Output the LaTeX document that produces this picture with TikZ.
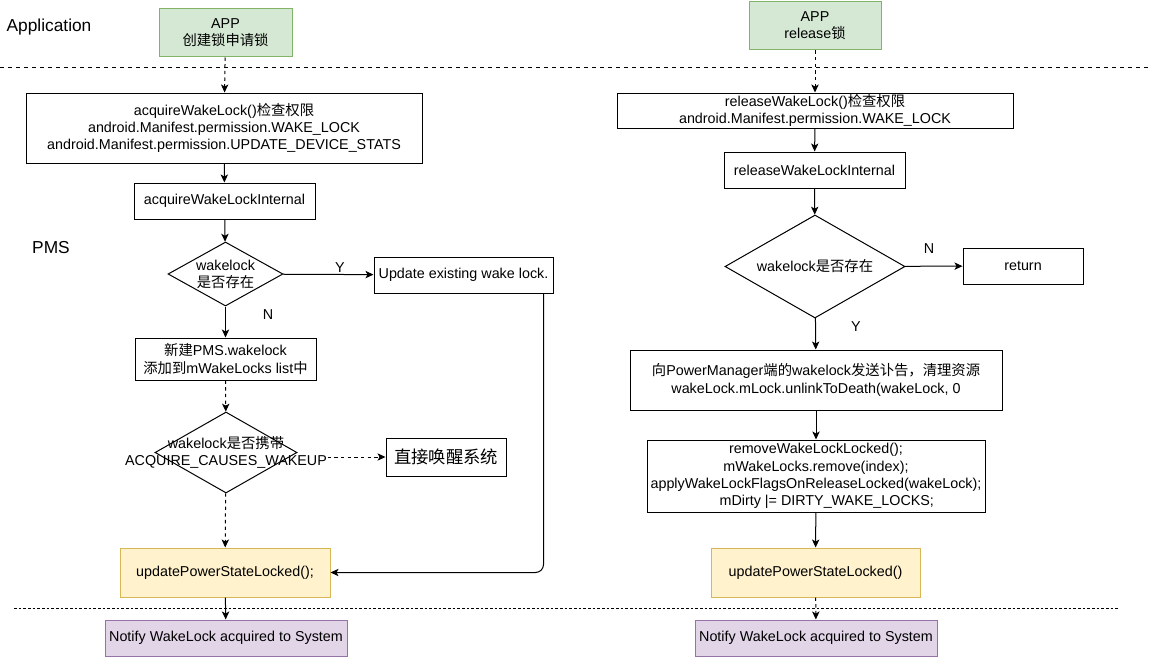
\documentclass[tikz,border=0pt]{standalone}
\usepackage{fontspec}
\setmainfont{Liberation Sans}
\newfontfamily\cjk{Noto Sans CJK SC}
\newcommand{\zh}[1]{{\cjk #1}}
\usetikzlibrary{arrows.meta,shapes.geometric}
\definecolor{appfill}{HTML}{D5E8D4}
\definecolor{appdraw}{HTML}{82B366}
\definecolor{updfill}{HTML}{FFF2CC}
\definecolor{upddraw}{HTML}{D6B656}
\definecolor{sysfill}{HTML}{E1D5E7}
\definecolor{sysdraw}{HTML}{9673A6}

\begin{document}
\begin{tikzpicture}[x=0.75pt,y=-0.75pt,
		every node/.style={font=\fontsize{10.75}{12.9}\selectfont},
		box/.style={draw,line width=0.75pt,align=center,inner sep=0pt},
		appbox/.style={box,fill=appfill,draw=appdraw},
		updbox/.style={box,fill=updfill,draw=upddraw},
		sysbox/.style={box,fill=sysfill,draw=sysdraw},
		check/.style={draw,line width=0.75pt,diamond,inner sep=0pt},
		flow/.style={line width=0.75pt,-{Stealth[length=6pt,width=5.5pt,inset=1.5pt]}},
		dflow/.style={flow,dash pattern=on 2.5pt off 2.5pt},
		big/.style={font=\fontsize{13}{15.5}\selectfont}
	]
		\fill[white] (0,0) rectangle (1159,660);
		\useasboundingbox (0,0) rectangle (1159,660);
		
		% layers
		\node[big] (lapp) at (49,27) {Application};
		\node[big] (lpms) at (51,248) {PMS};
		\coordinate (top l) at (0,68);
		\coordinate (top r) at (1150,68);
		\coordinate (bot l) at (14,608);
		\coordinate (bot r) at (1118,608);
		\draw[line width=0.75pt,dash pattern=on 3pt off 3pt] (top l) -- (top r);
		\draw[line width=0.75pt,dash pattern=on 2pt off 1.5pt] (bot l) -- (bot r);
		
		% acquire
		\node[appbox,minimum width=99.75pt,minimum height=36pt] (app1) at (225.5,33) {APP\\\zh{创建锁申请锁}};
		\node[box,minimum width=297pt,minimum height=52.5pt] (acq) at (224,128) {acquireWakeLock()\zh{检查权限}\\android.Manifest.permission.WAKE\_LOCK\\android.Manifest.permission.UPDATE\_DEVICE\_STATS};
		\node[box,minimum width=135.75pt,minimum height=27pt] (acqint) at (224.5,201) {acquireWakeLockInternal};
		\node[check,minimum width=86.25pt,minimum height=48pt,label={[align=center]center:{wakelock\\\zh{是否存在}}}] (exist1) at (225.5,274) {};
		\node[box,minimum width=134.25pt,minimum height=27pt] (update) at (463.5,275) {Update existing wake lock.};
		\node[box,minimum width=135.75pt,minimum height=31.5pt] (newlock) at (225.5,359) {\zh{新建}PMS.wakelock\\\zh{添加到}mWakeLocks list\zh{中}};
		\node[check,minimum width=106.5pt,minimum height=60.75pt,label={[align=center]center:{wakelock\zh{是否携带}\\ACQUIRE\_CAUSES\_WAKEUP}}] (causes) at (226,452.5) {};
		\node[box,big,minimum width=90pt,minimum height=28.5pt] (wakeup) at (446,457) {\zh{直接唤醒系统}};
		\node[updbox,minimum width=157.5pt,minimum height=36.75pt] (upd1) at (225,572.5) {updatePowerStateLocked();};
		\node[sysbox,minimum width=181.5pt,minimum height=27pt] (notify1) at (226,638) {Notify WakeLock acquired to System};
		
		\draw[dflow] (app1) -- (acq);
		\draw[flow] (acq) -- (acqint);
		\draw[flow] (acqint) -- (exist1);
		\draw[flow] (exist1) -- (update);
		\draw[flow] (exist1) -- (newlock);
		\draw[dflow] (newlock) -- (causes);
		\draw[dflow] ([xshift=22.5pt]causes.east |- wakeup.west) -- (wakeup.west);
		\draw[dflow] (causes) -- (upd1);
		\draw[flow,rounded corners=6pt] ([xshift=-7.5pt]update.south east) |- (upd1.east);
		\draw[flow] (upd1) -- (notify1);
		\node (y1) at (340,268) {Y};
		\node (n1) at (268,315) {N};
		
		% release
		\node[appbox,minimum width=99pt,minimum height=36pt] (app2) at (815,26) {APP\\release\zh{锁}};
		\node[box,minimum width=297pt,minimum height=26.25pt] (rel) at (815,110.5) {releaseWakeLock()\zh{检查权限}\\android.Manifest.permission.WAKE\_LOCK};
		\node[box,minimum width=135.75pt,minimum height=27pt] (relint) at (814.5,170) {releaseWakeLockInternal};
		\node[check,minimum width=135pt,minimum height=77.25pt,label={center:wakelock\zh{是否存在}}] (exist2) at (815,266.5) {};
		\node[box,minimum width=90pt,minimum height=27pt] (ret) at (1023,266) {return};
		\node[box,minimum width=279pt,minimum height=45pt] (unlink) at (816,380) {\zh{向}PowerManager\zh{端的}wakelock\zh{发送讣告，清理资源}\\wakeLock.mLock.unlinkToDeath(wakeLock, 0};
		\node[box,minimum width=253.5pt,minimum height=54pt] (remove) at (816,476) {removeWakeLockLocked();\\mWakeLocks.remove(index);\\applyWakeLockFlagsOnReleaseLocked(wakeLock);\\\hspace*{1.5em}mDirty |= DIRTY\_WAKE\_LOCKS;};
		\node[updbox,minimum width=156.75pt,minimum height=36.75pt] (upd2) at (815.5,572.5) {updatePowerStateLocked()};
		\node[sysbox,minimum width=181.5pt,minimum height=27pt] (notify2) at (816,638) {Notify WakeLock acquired to System};
		
		\draw[dflow] (app2) -- (rel);
		\draw[flow] (rel) -- (relint);
		\draw[flow] (relint) -- (exist2);
		\draw[flow] (exist2) -- (ret);
		\draw[flow] (exist2) -- (unlink);
		\draw[flow] (unlink) -- (remove);
		\draw[flow] (remove) -- (upd2);
		\draw[dflow] (upd2) -- (notify2);
		\node (n2) at (929,249) {N};
		\node (y2) at (856,327) {Y};
	\end{tikzpicture}
\end{document}
